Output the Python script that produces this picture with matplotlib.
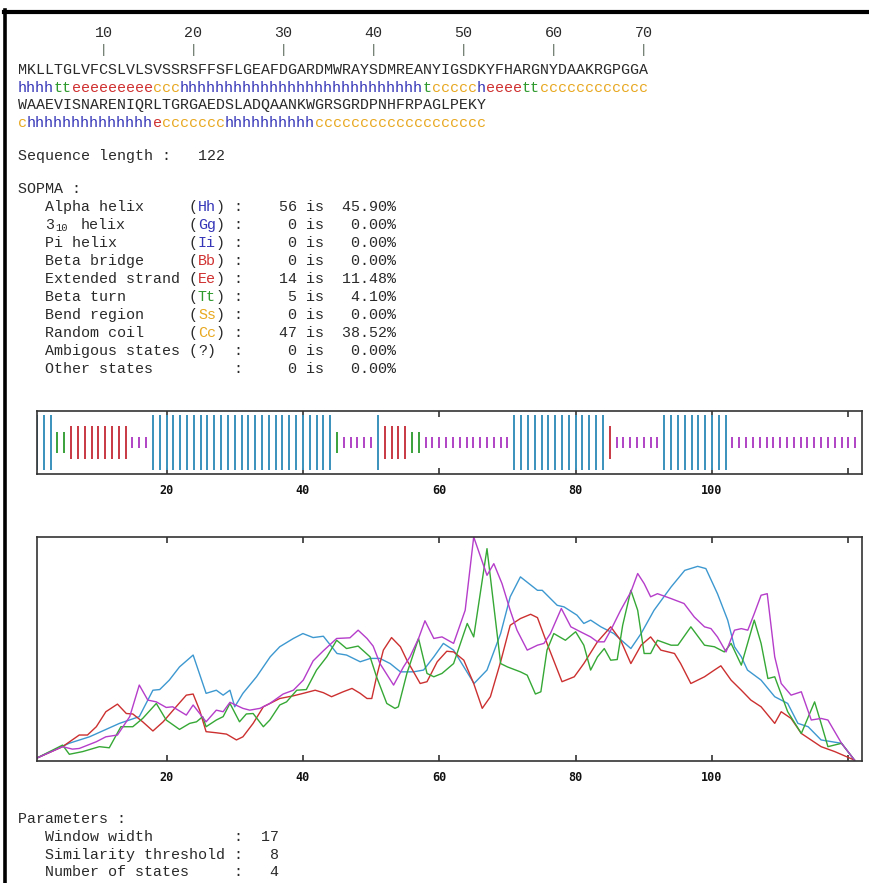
import matplotlib
matplotlib.use("Agg")
import matplotlib.pyplot as plt
from matplotlib.lines import Line2D

W, H = 870, 883
MONO = "Liberation Mono"
FS = 10.8
CW = FS * 100 / 72 * 0.6   # monospace cell width in pixels
X0 = 18
TXT = "#2a2a2a"

sequence = ("MKLLTGLVFCSLVLSVSSRSFFSFLGEAFDGARDMWRAYSDMREANYIGSDKYFHARGNYDAAKRGPGGA"
            "WAAEVISNARENIQRLTGRGAEDSLADQAANKWGRSGRDPNHFRPAGLPEKY")

# predicted state per residue, run-length encoded
ss_runs = [("h", 4), ("t", 2), ("e", 9), ("c", 3), ("h", 27), ("t", 1), ("c", 5),
           ("h", 1), ("e", 4), ("t", 2), ("c", 13), ("h", 14), ("e", 1), ("c", 7),
           ("h", 10), ("c", 19)]

summary_rows = [("Alpha helix", "Hh", "h"), ("3 helix", "Gg", "g"), ("Pi helix", "Ii", "i"),
                ("Beta bridge", "Bb", "b"), ("Extended strand", "Ee", "e"),
                ("Beta turn", "Tt", "t"), ("Bend region", "Ss", "s"),
                ("Random coil", "Cc", "c"), ("Ambigous states", "?", "?"),
                ("Other states", "", "")]

params = [("Window width", 17), ("Similarity threshold", 8), ("Number of states", 4)]

ticks = [20, 40, 60, 80, 100, 120]
tick_labels = ["20", "40", "60", "80", "100", ""]

# profile curves (score vs. position)
helix_x = [0.9, 5.7, 8.7, 13.1, 16.0, 18.0, 19.0, 20.4, 21.9, 23.9, 25.8, 27.3, 28.3, 29.3,
           30.0, 31.2, 33.2, 35.2, 36.6, 38.6, 40.0, 41.5, 43.0, 45.0, 46.4, 48.4, 49.9,
           51.3, 52.8, 54.3, 56.2, 57.7, 59.2, 60.6, 62.1, 65.1, 67.0, 69.0, 70.4, 71.9,
           74.4, 75.1, 77.3, 78.3, 80.2, 81.2, 82.2, 83.7, 85.6, 88.1, 89.6, 91.5, 94.0,
           96.0, 97.9, 99.1, 100.8, 102.3, 103.3, 104.3, 105.2, 107.2, 109.2, 111.1,
           112.6, 114.1, 116.0, 119.0, 120.9]
helix_y = [0.012, 0.079, 0.108, 0.168, 0.198, 0.316, 0.319, 0.361, 0.420, 0.473, 0.302,
           0.316, 0.294, 0.316, 0.242, 0.302, 0.376, 0.465, 0.510, 0.547, 0.569, 0.551,
           0.557, 0.480, 0.473, 0.443, 0.458, 0.458, 0.435, 0.398, 0.398, 0.406, 0.465,
           0.525, 0.495, 0.346, 0.406, 0.569, 0.733, 0.822, 0.762, 0.762, 0.695, 0.688,
           0.651, 0.614, 0.629, 0.599, 0.569, 0.502, 0.569, 0.673, 0.777, 0.851, 0.869,
           0.859, 0.747, 0.629, 0.510, 0.465, 0.406, 0.361, 0.287, 0.257, 0.168, 0.153,
           0.094, 0.079, 0.004]

strand_x = [0.9, 4.75, 7.2, 8.4, 9.7, 11.1, 12.8, 14.1, 15.05, 16.5, 18.0, 19.5, 21.4,
            22.9, 23.9, 24.85, 25.8, 27.3, 28.8, 30.25, 31.2, 32.7, 34.2, 36.6, 38.6,
            40.05, 41.8, 43.0, 44.2, 45.9, 47.2, 48.4, 49.4, 50.1, 50.8, 51.8, 53.0, 54.3,
            55.25, 57.2, 58.2, 59.7, 61.1, 62.1, 63.6, 65.05, 66.3, 67.5, 69.0, 70.4,
            71.9, 73.4, 74.4, 75.8, 78.0, 79.8, 81.2, 83.2, 85.15, 86.6, 88.1, 89.6, 91.0,
            92.5, 94.5, 95.4, 96.9, 98.9, 100.35, 101.3, 102.8, 104.3, 105.7, 107.2,
            109.2, 110.15, 111.6, 113.1, 116.0, 118.0, 120.9]
strand_y = [0.012, 0.064, 0.116, 0.116, 0.153, 0.220, 0.254, 0.212, 0.210, 0.175, 0.134,
            0.175, 0.242, 0.294, 0.299, 0.227, 0.131, 0.126, 0.120, 0.094, 0.108, 0.168,
            0.242, 0.279, 0.291, 0.302, 0.316, 0.305, 0.287, 0.309, 0.324, 0.302, 0.279,
            0.279, 0.376, 0.495, 0.551, 0.510, 0.450, 0.346, 0.354, 0.443, 0.490, 0.487,
            0.450, 0.346, 0.235, 0.287, 0.443, 0.606, 0.636, 0.655, 0.640, 0.525, 0.354,
            0.376, 0.435, 0.532, 0.599, 0.539, 0.435, 0.517, 0.554, 0.495, 0.480, 0.435,
            0.346, 0.376, 0.406, 0.425, 0.361, 0.316, 0.272, 0.242, 0.168, 0.220, 0.190,
            0.123, 0.064, 0.042, 0.004]

turn_x = [0.9, 4.75, 5.74, 7.7, 10.15, 11.6, 13.3, 15.05, 16.5, 18.5, 19.95, 21.9, 23.4,
          24.4, 25.3, 25.8, 27.3, 28.3, 29.3, 30.7, 31.7, 32.7, 34.2, 35.15, 36.6, 37.6,
          39.1, 40.5, 42.0, 43.5, 44.95, 46.4, 48.1, 49.85, 50.8, 52.3, 53.5, 54.0, 55.25,
          56.96, 58.2, 59.2, 60.4, 62.1, 64.1, 65.05, 67.0, 69.0, 70.0, 71.9, 72.9, 74.1,
          74.9, 75.8, 76.8, 78.5, 80.0, 81.2, 82.2, 83.2, 84.2, 85.15, 86.1, 86.9, 88.1,
          89.1, 90.05, 91.0, 92.0, 94.0, 95.0, 96.9, 98.9, 100.35, 101.8, 102.8, 104.3,
          106.2, 107.2, 108.2, 109.2, 111.1, 113.1, 115.05, 116.0, 117.0, 119.0, 120.9]
turn_y = [0.012, 0.071, 0.030, 0.042, 0.064, 0.059, 0.153, 0.153, 0.190, 0.257, 0.183,
          0.141, 0.168, 0.175, 0.198, 0.153, 0.183, 0.198, 0.257, 0.175, 0.210, 0.212,
          0.153, 0.183, 0.250, 0.264, 0.316, 0.319, 0.406, 0.465, 0.539, 0.502, 0.513,
          0.465, 0.376, 0.257, 0.235, 0.242, 0.391, 0.547, 0.391, 0.376, 0.391, 0.435,
          0.614, 0.554, 0.948, 0.435, 0.420, 0.398, 0.383, 0.299, 0.309, 0.495, 0.569,
          0.539, 0.577, 0.517, 0.406, 0.465, 0.502, 0.450, 0.453, 0.606, 0.762, 0.673,
          0.480, 0.480, 0.539, 0.517, 0.517, 0.599, 0.517, 0.510, 0.487, 0.525, 0.428,
          0.629, 0.525, 0.368, 0.376, 0.220, 0.123, 0.264, 0.168, 0.064, 0.079, 0.004]

coil_x = [0.9, 4.75, 6.2, 7.2, 9.7, 11.1, 12.8, 14.6, 16.0, 17.25, 18.5, 19.95, 20.9, 22.9,
          23.9, 25.8, 27.3, 28.3, 29.3, 31.2, 32.2, 33.7, 35.15, 37.1, 38.6, 40.05, 41.5,
          43.0, 44.95, 46.9, 48.1, 49.4, 50.3, 51.3, 53.3, 54.75, 55.7, 56.96, 57.9, 59.2,
          60.4, 62.1, 63.8, 65.05, 67.0, 68.0, 69.2, 70.4, 71.4, 72.9, 74.4, 75.35, 76.3,
          77.9, 79.3, 80.7, 82.2, 83.2, 84.2, 85.15, 86.6, 88.1, 89.1, 90.05, 91.0, 92.0,
          94.0, 95.9, 97.4, 98.9, 99.85, 100.8, 102.06, 103.3, 104.3, 105.25, 106.2,
          107.2, 108.1, 109.2, 110.15, 111.6, 113.1, 114.56, 116.0, 117.0, 119.0, 120.9]
coil_y = [0.012, 0.064, 0.053, 0.056, 0.086, 0.108, 0.116, 0.198, 0.339, 0.272, 0.264,
          0.239, 0.242, 0.205, 0.250, 0.175, 0.227, 0.220, 0.262, 0.235, 0.227, 0.235,
          0.257, 0.299, 0.316, 0.361, 0.447, 0.492, 0.547, 0.550, 0.584, 0.547, 0.513,
          0.435, 0.339, 0.420, 0.465, 0.547, 0.626, 0.547, 0.554, 0.525, 0.673, 1.0,
          0.829, 0.881, 0.792, 0.673, 0.584, 0.495, 0.517, 0.525, 0.569, 0.681, 0.599,
          0.577, 0.554, 0.532, 0.532, 0.584, 0.673, 0.755, 0.837, 0.792, 0.733, 0.747,
          0.725, 0.703, 0.643, 0.599, 0.591, 0.554, 0.487, 0.584, 0.591, 0.584, 0.658,
          0.740, 0.747, 0.465, 0.346, 0.294, 0.309, 0.183, 0.190, 0.183, 0.079, 0.004]

text_colors = {"h": "#3535b8", "g": "#3535b8", "i": "#3535b8", "b": "#d03030",
               "e": "#d03030", "t": "#2e9a2e", "s": "#e8a820", "c": "#e8a820"}
bar_colors = {"h": "#3a92bc", "e": "#c83844", "t": "#3aa23a", "c": "#b043c4"}
bar_half = {"h": 0.43, "e": 0.26, "t": 0.165, "c": 0.087}
curve_colors = {"h": "#3d98d0", "e": "#cc3030", "t": "#35a835", "c": "#b53dca"}

states = "".join(s * n for s, n in ss_runs)


def put(fig, col, y, s, color=TXT, size=FS, ha="left", dy=0):
    fig.text((X0 + col * CW) / W, 1 - (y + dy) / H, s, color=color, fontsize=size,
             family=MONO, ha=ha, va="center")


def put_states(fig, col, y, s):
    # one text per run of equal states, so each run gets its own colour
    start = 0
    for i in range(1, len(s) + 1):
        if i == len(s) or s[i] != s[start]:
            put(fig, col + start, y, s[start:i], color=text_colors[s[start]])
            start = i


def style_axis(ax):
    ax.set_xlim(1, 122)
    ax.set_yticks([])
    ax.set_xticks(ticks)
    ax.set_xticklabels(tick_labels, family="DejaVu Sans Mono", fontweight="bold",
                       fontsize=8.5, color="#111111")
    ax.tick_params(axis="x", direction="in", length=4, width=1.2, top=True,
                   bottom=True, pad=7, color="#333333")
    for sp in ax.spines.values():
        sp.set_color("#333333")
        sp.set_linewidth(1.2)


fig = plt.figure(figsize=(W / 100, H / 100), dpi=100)

# frame edges along the top and left
fig.add_artist(Line2D([4 / W, 1], [1 - 11.5 / H] * 2, color="black", lw=3))
fig.add_artist(Line2D([5.5 / W] * 2, [0, 1 - 10 / H], color="black", lw=2.6))

# position ruler
for pos in range(10, 71, 10):
    put(fig, pos - 0.5, 33, str(pos), ha="center")
    put(fig, pos - 0.5, 50, "|", color="#4a5a4a", ha="center", size=9)

put(fig, 0, 70, sequence[:70])
put_states(fig, 0, 88, states[:70])
put(fig, 0, 105, sequence[70:])
put_states(fig, 0, 123, states[70:])

put(fig, 0, 156, "Sequence length : %5d" % len(sequence))
put(fig, 0, 189, "SOPMA :")

n = len(states)
for k, (name, code, key) in enumerate(summary_rows):
    y = 207 + k * 18.05
    if key == "g":
        put(fig, 3, y, "3")
        put(fig, 4.1, y, "10", size=7.6, dy=3)
        put(fig, 7, y, "helix")
    else:
        put(fig, 3, y, name)
    if code:
        put(fig, 19, y, "(")
        put(fig, 20, y, code, color=text_colors.get(key, TXT))
        put(fig, 20 + len(code), y, ")")
    cnt = states.count(key) if key else 0
    put(fig, 24, y, ": %5d is %6.2f%%" % (cnt, 100.0 * cnt / n))

# per-residue state bars
ax1 = fig.add_axes([37 / W, 1 - 474 / H, 825 / W, 63 / H])
for i, s in enumerate(states):
    hh = bar_half[s]
    ax1.vlines(i, 0.5 - hh, 0.5 + hh, color=bar_colors[s], lw=1.4)
ax1.set_ylim(0, 1)
style_axis(ax1)

# state score profiles
ax2 = fig.add_axes([37 / W, 1 - 761 / H, 825 / W, 224 / H])
ax2.plot(helix_x, helix_y, color=curve_colors["h"], lw=1.0)
ax2.plot(strand_x, strand_y, color=curve_colors["e"], lw=1.0)
ax2.plot(turn_x, turn_y, color=curve_colors["t"], lw=1.0)
ax2.plot(coil_x, coil_y, color=curve_colors["c"], lw=1.0)
ax2.set_ylim(0, 1.0)
style_axis(ax2)

put(fig, 0, 819, "Parameters :")
for k, (name, val) in enumerate(params):
    put(fig, 3, 837 + k * 17.5, "%-20s : %3d" % (name, val))

fig.savefig("out.png", dpi=100)
